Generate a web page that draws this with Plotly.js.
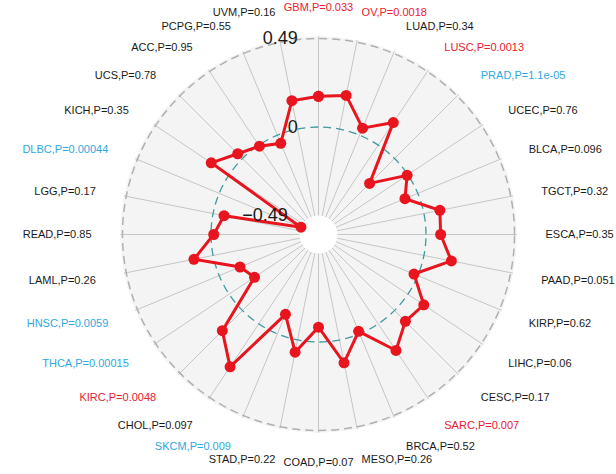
<!DOCTYPE html>
<html>
<head>
<meta charset="utf-8">
<script src="https://cdn.plot.ly/plotly-3.0.1.min.js"></script>
<style>html,body{margin:0;padding:0;background:#fff;}#chart{width:616px;height:474px;}</style>
</head>
<body>
<div id="chart"></div>
<script>
// Cancer types, clockwise from the top
const cancers = ["GBM","OV","LUAD","LUSC","PRAD","UCEC","BLCA","TGCT","ESCA","PAAD","KIRP","LIHC","CESC","SARC","BRCA","MESO","COAD","STAD","SKCM","CHOL","KIRC","THCA","HNSC","LAML","READ","LGG","DLBC","KICH","UCS","ACC","PCPG","UVM"];
const pvalues = ["0.033","0.0018","0.34","0.0013","1.1e-05","0.76","0.096","0.32","0.35","0.051","0.62","0.06","0.17","0.007","0.52","0.26","0.07","0.22","0.009","0.097","0.0048","0.00015","0.0059","0.26","0.85","0.17","0.00044","0.35","0.78","0.95","0.55","0.16"];
// direction of significant correlation: "pos" (red), "neg" (blue), "ns" (black)
const groups = ["pos","pos","ns","pos","neg","ns","ns","ns","ns","ns","ns","ns","ns","pos","ns","ns","ns","ns","neg","ns","pos","neg","neg","ns","ns","ns","neg","ns","ns","ns","ns","ns"];
const correlation = [0.17,0.19,0.042,0.15,-0.195,-0.005,-0.077,0.09,0.081,0.155,-0.023,0.106,0.085,0.177,-0.015,0.129,-0.082,0.069,-0.117,0.286,0.158,-0.169,-0.125,0.108,-0.015,-0.062,-0.49,0.119,0.037,-0.007,-0.049,0.16];
const radialTicks = [-0.49, 0, 0.49];
const radialTickText = ["\u22120.49", "0", "0.49"];

const groupColor = {pos: "#e8202f", neg: "#2ea8e0", ns: "#1a1a1a"};
// labels on the left/right get a little extra horizontal padding (non-breaking spaces)
const NB = "\u00A0";
const tickLabels = cancers.map((c, i) => {
  const s = Math.sin(i * 2 * Math.PI / cancers.length);
  const pad = NB.repeat(Math.round(Math.abs(s) * 2.4));
  const txt = c + ',P=' + pvalues[i];
  const full = s > 0 ? pad + txt : txt + pad;
  return '<span style="fill:' + groupColor[groups[i]] + '">' + full + '</span>';
});
// innermost radial label is nudged left (it would otherwise overlap the central hole)
const radialLabels = radialTickText.map((t, i) => i === 0 ? t + NB.repeat(2) : t);

const thetaClosed = cancers.concat([cancers[0]]);
const rClosed = correlation.concat([correlation[0]]);

// geometry (pixels): centre, outer radius, hole radius
const W = 616, H = 474, CX = 318.5, CY = 234.5, R = 196, R0 = 19;
const HOLE = R0 / R;
function domainFor(radius) {
  return {
    x: [(CX - radius) / W, (CX + radius) / W],
    y: [(H - CY - radius) / H, (H - CY + radius) / H]
  };
}
const rRange = [radialTicks[0], radialTicks[2]];
// background polar: range extended slightly so that the outer dashed ring (at 0.49) is drawn
const EXT = 0.012;
const span = rRange[1] - rRange[0];
const Rbg = R0 + (R - R0) * (span + EXT) / span;
const domain = domainFor(R);
const domainBg = domainFor(Rbg);

const trace = {
  type: "scatterpolar",
  subplot: "polar3",
  theta: thetaClosed,
  r: rClosed,
  mode: "lines+markers",
  line: {color: "#e8141e", width: 3},
  marker: {color: "#e8141e", size: 11},
  hoverinfo: "theta+r",
  showlegend: false
};

const bgTrace = {
  type: "scatterpolar", subplot: "polar",
  theta: cancers, r: correlation, mode: "markers",
  marker: {opacity: 0}, hoverinfo: "skip", showlegend: false
};
const ringTrace = {
  type: "scatterpolar", subplot: "polar2",
  theta: cancers, r: correlation, mode: "markers",
  marker: {opacity: 0}, hoverinfo: "skip", showlegend: false
};

const layout = {
  width: W,
  height: H,
  margin: {l: 0, r: 0, t: 0, b: 0},
  paper_bgcolor: "#ffffff",
  font: {family: "Liberation Sans, Arial, sans-serif", color: "#1a1a1a"},
  showlegend: false,
  polar: {
    domain: domainBg,
    hole: R0 / Rbg,
    bgcolor: "#f4f4f4",
    gridshape: "circular",
    angularaxis: {
      type: "category",
      categoryarray: cancers,
      direction: "clockwise",
      rotation: 90,
      showgrid: true,
      gridcolor: "#c6c6c6",
      gridwidth: 1,
      showline: false,
      ticks: "outside",
      ticklen: 20,
      tickcolor: "rgba(0,0,0,0)",
      tickmode: "array",
      tickvals: cancers,
      ticktext: tickLabels,
      tickfont: {size: 11, family: "Liberation Sans, Arial, sans-serif", color: "#1a1a1a"}
    },
    radialaxis: {
      range: [rRange[0], rRange[1] + EXT],
      tickmode: "array",
      tickvals: [radialTicks[2]],
      showticklabels: false,
      ticks: "",
      showline: false,
      gridcolor: "#b0b0b0",
      gridwidth: 1.5,
      griddash: "8px,5px"
    }
  },
  polar2: {
    domain: domain,
    hole: HOLE,
    bgcolor: "rgba(0,0,0,0)",
    angularaxis: {
      type: "category", categoryarray: cancers, direction: "clockwise", rotation: 90,
      showgrid: false, showline: false, showticklabels: false, ticks: ""
    },
    radialaxis: {
      range: rRange,
      tickmode: "array",
      tickvals: [radialTicks[1]],
      showticklabels: false,
      ticks: "",
      showline: false,
      gridcolor: "#3f9a9e",
      gridwidth: 1.3,
      griddash: "8px,5px"
    }
  },
  polar3: {
    domain: domain,
    hole: HOLE,
    bgcolor: "rgba(0,0,0,0)",
    angularaxis: {
      type: "category", categoryarray: cancers, direction: "clockwise", rotation: 90,
      showgrid: false, showline: false, showticklabels: false, ticks: ""
    },
    radialaxis: {
      range: rRange,
      angle: 90,
      tickangle: 90,
      side: "counterclockwise",
      tickmode: "array",
      tickvals: radialTicks,
      ticktext: radialLabels,
      tickfont: {size: 18, color: "#1a1a1a", family: "Liberation Sans, Arial, sans-serif"},
      ticks: "outside",
      ticklen: 14,
      tickcolor: "rgba(0,0,0,0)",
      showline: false,
      showgrid: false
    }
  }
};

Plotly.newPlot("chart", [bgTrace, ringTrace, trace], layout, {displayModeBar: false, staticPlot: true});
</script>
</body>
</html>
